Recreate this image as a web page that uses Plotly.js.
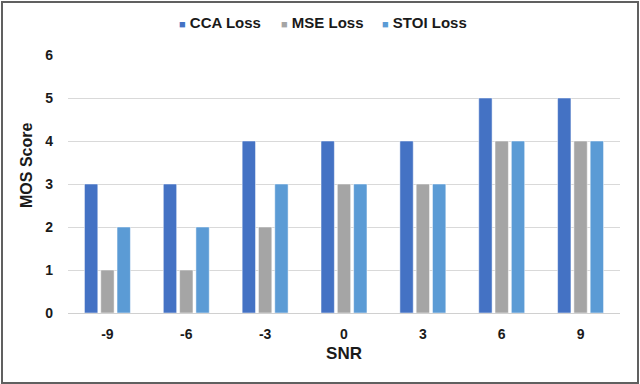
<!DOCTYPE html>
<html>
<head>
<meta charset="utf-8">
<script src="https://cdn.plot.ly/plotly-3.0.1.min.js"></script>
<style>
  body { margin: 0; background: #fff; }
  #chart { position: absolute; left: 0; top: 0; width: 640px; height: 384px; }
  #frame {
    position: absolute; left: 1px; top: 1px; width: 634px; height: 379px;
    border: 2px solid #606060; pointer-events: none;
  }
</style>
</head>
<body>
<div id="chart"></div>
<div id="frame"></div>
<script>
const snr = ["-9", "-6", "-3", "0", "3", "6", "9"];
const ccaLoss = [3, 3, 4, 4, 4, 5, 5];
const mseLoss = [1, 1, 2, 3, 3, 4, 4];
const stoiLoss = [2, 2, 3, 3, 3, 4, 4];

const seriesNames = ["CCA Loss", "MSE Loss", "STOI Loss"];
const seriesColors = ["#4472C4", "#A5A5A5", "#5B9BD5"];
const seriesValues = [ccaLoss, mseLoss, stoiLoss];

const font = "Liberation Sans, Arial, sans-serif";

// plot area in pixels, used to place the legend entries and y title
const plotLeft = 68, plotWidth = 552, plotTop = 55, plotHeight = 258;
const legendPx = [177, 279, 380];

const traces = seriesValues.map((vals, i) => ({
  type: "bar",
  x: snr,
  y: vals,
  name: seriesNames[i],
  marker: { color: seriesColors[i], line: { color: "#ffffff", width: 0.5 } },
  hoverinfo: "none"
}));

// legend drawn as text: small coloured square followed by the series name
const legendNotes = seriesNames.map((name, i) => ({
  xref: "paper", yref: "paper",
  x: (legendPx[i] - plotLeft) / plotWidth,
  y: 1 + (plotTop - 22) / plotHeight,
  xanchor: "left", yanchor: "middle",
  showarrow: false,
  text: `<span style="color:${seriesColors[i]};font-size:11px">■</span> ${name}`,
  font: { family: font, size: 15, weight: "bold", color: "#1a1a1a" }
}));

// y title sits a bit above the middle of the axis, as in the original
const yTitle = {
  xref: "paper", yref: "paper",
  x: (26 - plotLeft) / plotWidth,
  y: (plotTop + plotHeight - 166) / plotHeight,
  xanchor: "center", yanchor: "middle",
  textangle: -90,
  showarrow: false,
  text: "MOS Score",
  font: { family: font, size: 16, weight: "bold", color: "#1a1a1a" }
};

const layout = {
  width: 640,
  height: 384,
  margin: { l: plotLeft, r: 640 - plotLeft - plotWidth, t: plotTop, b: 384 - plotTop - plotHeight },
  paper_bgcolor: "#ffffff",
  plot_bgcolor: "#ffffff",
  font: { family: font, color: "#1a1a1a", size: 14, weight: "bold" },
  barmode: "group",
  bargap: 0.38,
  bargroupgap: 0.18,
  showlegend: false,
  annotations: [...legendNotes, yTitle],
  xaxis: {
    type: "category",
    showgrid: false,
    showline: true,
    linecolor: "#d0d0d0",
    linewidth: 1,
    ticks: "",
    ticklabelstandoff: 8,
    tickfont: { family: font, size: 14, weight: "bold" },
    title: { text: "SNR", font: { family: font, size: 17, weight: "bold" }, standoff: 6 }
  },
  yaxis: {
    range: [0, 6],
    dtick: 1,
    showgrid: true,
    gridcolor: "#d9d9d9",
    gridwidth: 1,
    zeroline: false,
    showline: false,
    ticks: "",
    ticklabelstandoff: 14,
    tickfont: { family: font, size: 14, weight: "bold" }
  }
};

Plotly.newPlot("chart", traces, layout, { displayModeBar: false, staticPlot: true });
</script>
</body>
</html>
